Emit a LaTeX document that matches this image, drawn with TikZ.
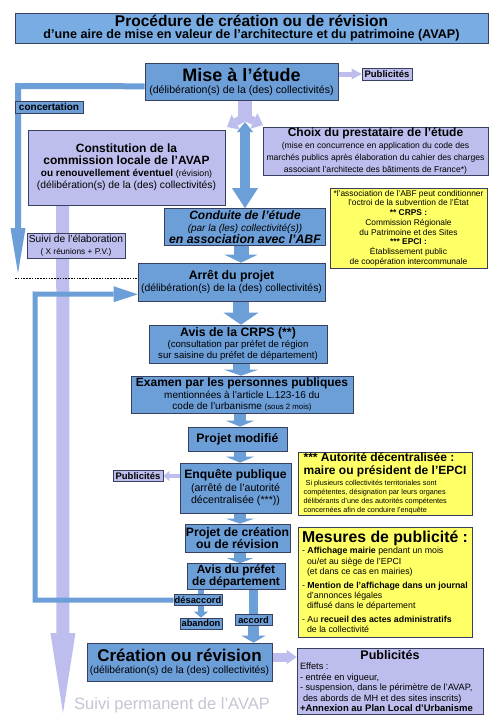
\documentclass[tikz,border=0pt]{standalone}
\usepackage{fontspec}
\setmainfont{Liberation Sans}
\usetikzlibrary{arrows.meta,calc}
\definecolor{boxblue}{RGB}{108,158,216}
\definecolor{titleblue}{RGB}{120,172,226}
\definecolor{lav}{RGB}{190,190,238}
\definecolor{yel}{RGB}{255,255,102}
\definecolor{edge}{RGB}{55,65,95}
\definecolor{permgray}{RGB}{200,196,212}
\newcommand\fsz[2]{\fontsize{#1}{#2}\selectfont}
\pgfdeclarelayer{bg}
\pgfsetlayers{bg,main}
\tikzset{
  box/.style={draw=edge, line width=0.6pt, inner sep=0.5pt, align=center, text=black},
  bluebox/.style={box, fill=boxblue},
  titlebox/.style={box, fill=titleblue},
  lavbox/.style={box, fill=lav},
  yelbox/.style={box, fill=yel},
  bluetag/.style={box, fill=boxblue, inner sep=0pt, font=\fsz{9.3}{9}\bfseries, minimum height=11pt},
  lavtag/.style={box, fill=lav, inner sep=0pt, font=\fsz{9.5}{9}\bfseries, minimum height=12pt},
  fatblue/.style n args={3}{draw=boxblue, line width=#1, -{Triangle[width=#2,length=#3,line width=0pt]}},
  fatlav/.style n args={3}{draw=lav, line width=#1, -{Triangle[width=#2,length=#3,line width=0pt]}},
  blueline/.style={draw=boxblue},
  dashline/.style={draw=black, line width=0.6pt, dash pattern=on 1.6pt off 1.2pt},
}
\begin{document}
\begin{tikzpicture}[x=1pt,y=-1pt]
\useasboundingbox (0,0) rectangle (500,725);

% ---------- nodes ----------
\node[titlebox, minimum width=473pt, minimum height=30pt, font=\bfseries] (title) at (251.5,28)
 {\fsz{15.5}{15}Procédure de création ou de révision\\ \fsz{12.6}{13}d'une aire de mise en valeur de l'architecture et du patrimoine (AVAP)};

\node[bluebox, minimum width=193pt, minimum height=37pt] (mise) at (241.5,81.5)
 {\fsz{18}{18}\bfseries Mise à l'étude\\ \fsz{10.6}{12}(délibération(s) de la (des) collectivités)};

\node[lavtag, minimum width=50pt] (pubT) at (387,74) {Publicités};
\node[bluetag, minimum width=68pt, minimum height=12pt] (concert) at (49,107) {\fsz{10}{10}concertation};

\node[lavbox, minimum width=197pt, minimum height=75pt] (constit) at (126.5,167.5)
 {\fsz{12}{15}\bfseries Constitution de la\\ \fsz{12}{15}\bfseries commission locale de l'AVAP\\ \fsz{10}{13.5}\bfseries ou renouvellement éventuel {\mdseries\fsz{8.8}{13.5}(révision)}\\ \fsz{10.3}{12}(délibération(s) de la (des) collectivités)};

\node[lavbox, minimum width=225pt, minimum height=48pt] (choix) at (375.5,151)
 {\fsz{12}{13.5}\bfseries Choix du prestataire de l'étude\\[0.5pt] \fsz{8.6}{9.6}(mise en concurrence en application du code des\\ \fsz{8.6}{9.6}marchés publics après élaboration du cahier des charges\\ \fsz{8.6}{9.6}associant l'architecte des bâtiments de France*)};

\node[bluebox, minimum width=161pt, minimum height=37pt, inner sep=0pt] (conduite) at (245,227)
 {\fsz{12}{12}\bfseries\itshape Conduite de l'étude\\ \fsz{10}{12.5}\itshape (par la (les) collectivité(s))\\ \fsz{12.3}{12.5}\bfseries\itshape en association avec l'ABF};

\node[yelbox, minimum width=157pt, minimum height=80pt, inner sep=0pt, font=\fsz{8.4}{9.7}] (note) at (408.5,228)
 {*l'association de l'ABF peut conditionner\\ l'octroi de la subvention de l'État\\ \textbf{** CRPS :}\\ Commission Régionale\\ du Patrimoine et des Sites\\ \textbf{*** EPCI :}\\ Établissement public\\ de coopération intercommunale};

\node[lavbox, minimum width=98pt, minimum height=25pt, inner sep=0pt] (suivi) at (76,245.5)
 {\fsz{10.2}{11}Suivi de l'élaboration\\ \fsz{8.3}{10}( X réunions + P.V.)};

\node[bluebox, minimum width=187pt, minimum height=38pt] (arret) at (231.5,282)
 {\fsz{12.3}{14}\bfseries Arrêt du projet\\ \fsz{10.4}{12.5}(délibération(s) de la (des) collectivités)};

\node[bluebox, minimum width=178pt, minimum height=38pt, font=\fsz{9.6}{11}] (crps) at (238,344)
 {\fsz{12.3}{13}\bfseries Avis de la CRPS (**)\\ (consultation par préfet de région\\ sur saisine du préfet de département)};

\node[bluebox, minimum width=222pt, minimum height=37pt, font=\fsz{10}{11.2}] (examen) at (242,394.5)
 {\fsz{12}{12.5}\bfseries Examen par les personnes publiques\\ mentionnées à l'article L.123-16 du\\ code de l'urbanisme {\fsz{7.8}{11}(sous 2 mois)}};

\node[bluebox, minimum width=99pt, minimum height=24pt] (pm) at (237.5,439)
 {\fsz{12.3}{13}\bfseries Projet modifié};

\node[bluebox, minimum width=111pt, minimum height=50pt, font=\fsz{10.6}{12.5}] (enq) at (235.5,488)
 {\fsz{12.2}{14}\bfseries Enquête publique\\ (arrêté de l'autorité\\ décentralisée (***))};

\node[lavtag, minimum width=50pt, minimum height=11pt] (pubL) at (138,476) {Publicités};

\node[yelbox, minimum width=174pt, minimum height=63pt, align=left, inner sep=0pt, font=\fsz{7.3}{9}] (autor) at (385,483.5)
 {\fsz{12}{12.5}\bfseries *** Autorité décentralisée :\\[3.5pt] \fsz{12}{12.5}\bfseries maire ou président de l'EPCI\\[2.5pt] \hspace*{2pt}Si plusieurs collectivités territoriales sont\\ compétentes, désignation par leurs organes\\ délibérants d'une des autorités compétentes\\ concernées afin de conduire l'enquête};

\node[bluebox, minimum width=105pt, minimum height=28pt, inner sep=0pt, font=\fsz{12.2}{12.5}\bfseries] (pdc) at (237.5,538)
 {Projet de création\\ ou de révision};

\node[yelbox, minimum width=174pt, minimum height=110pt, align=left, font=\fsz{8.8}{10.3}] (mesures) at (385,582)
 {\fsz{15.8}{16}\bfseries Mesures de publicité :\\[1pt]
  - \textbf{Affichage mairie} pendant un mois\\
  \hspace*{5pt}ou/et au siège de l'EPCI\\
  \hspace*{5pt}(et dans ce cas en mairies)\\[3.5pt]
  - \textbf{Mention de l'affichage dans un journal}\\
  \hspace*{5pt}d'annonces légales\\
  \hspace*{5pt}diffusé dans le département\\[3.5pt]
  - Au \textbf{recueil des actes administratifs}\\
  \hspace*{5pt}de la collectivité};

\node[bluebox, minimum width=98pt, minimum height=26pt, inner sep=0pt, font=\fsz{11.8}{12}\bfseries] (avis) at (236,576.5)
 {Avis du préfet\\ de département};

\node[bluetag, minimum width=48pt, minimum height=10.5pt] (desacc) at (198,600) {désaccord};
\node[bluetag, minimum width=42pt] (aband) at (201,623.5) {abandon};
\node[bluetag, minimum width=37pt] (accord) at (253.5,620) {accord};

\node[bluebox, minimum width=185pt, minimum height=38pt] (creation) at (179.5,662)
 {\fsz{17}{18}\bfseries Création ou révision\\ \fsz{10.3}{12}(délibération(s) de la (des) collectivités)};

\node[lavbox, text width=180pt, minimum height=66pt, inner xsep=3pt, inner ysep=0.5pt, align=none] (pubB) at (390,681)
 {\centering\fsz{12.5}{13}\bfseries Publicités\par
  \raggedright\fsz{9.2}{10.4}\mdseries Effets :\\
  - entrée en vigueur,\\
  - suspension, dans le périmètre de l'AVAP,\\
  \hspace*{3pt}des abords de MH et des sites inscrits)\\
  \fsz{9.5}{10.6}\bfseries +Annexion au Plan Local d'Urbanisme\par};

\node[text=permgray, font=\fsz{16.5}{17}] (perm) at (172,705) {Suivi permanent de l'AVAP};

% ---------- free ends ----------
\coordinate (suiviEnd) at (63,713);
\coordinate (concCorner) at (18,86);
\coordinate (concEnd) at (18,273);
\coordinate (dashStart) at (15,278);
\coordinate (loopB) at (35,600);
\coordinate (loopT) at (35,294);
\coordinate (split) at (245,117);
\coordinate (splitL) at (227,127);
\coordinate (splitR) at (263,125);
\coordinate (dblTop) at (245,122);
\coordinate (colA) at (241,0);
\coordinate (colB) at (240,0);

% ---------- connectors ----------
\begin{pgfonlayer}{bg}
\fill[white] (0,0) rectangle (500,725);
% permanent follow-up column
\draw[fatlav={13pt}{25pt}{80pt}] ($(constit.south west)+(35,0)$) -- (suiviEnd);
% concertation
\draw[fatblue={6pt}{15pt}{45pt}, line join=miter] ($(mise.south west)+(0,-14)$) -- (concCorner) -- (concEnd);
% dashed line
\draw[dashline] (dashStart) -- ($(arret.west)+(0,-4)$);
% return loop from disagreement
\draw[fatblue={5pt}{16pt}{24pt}, line join=miter] (desacc.west) -- (loopB) -- (loopT) -- ($(arret.south west)+(0,-7)$);
% Mise -> Publicites
\draw[fatlav={5pt}{11pt}{10pt}] (mise.east |- pubT) -- (pubT.west);
% split to constitution / choix
\draw[draw=lav, line width=14pt] ($(mise.south)+(3.5,0)$) -- (split);
\draw[fatlav={8pt}{17pt}{10pt}] (split) -- (splitL);
\draw[fatlav={8pt}{17pt}{10pt}] (split) -- (splitR);
% double arrow
\draw[draw=boxblue, line width=10pt, {Triangle[width=16pt,length=10pt,line width=0pt]}-{Triangle[width=26pt,length=20pt,line width=0pt]}] (dblTop) -- (conduite.north);
% main flow
\draw[fatblue={15pt}{33pt}{8pt}] (conduite.south -| colA) -- (arret.north -| colA);
\draw[fatblue={16pt}{35pt}{12pt}] (arret.south -| colA) -- (crps.north -| colA);
\draw[fatblue={17pt}{34pt}{6pt}] (crps.south -| colA) -- (examen.north -| colA);
\draw[fatblue={12pt}{28pt}{6pt}] (examen.south -| colB) -- (pm.north -| colB);
\draw[fatblue={12pt}{28pt}{6pt}] (pm.south -| colB) -- (enq.north -| colB);
\draw[fatblue={12pt}{28pt}{5pt}] (enq.south -| colB) -- (pdc.north -| colB);
\draw[fatblue={12pt}{26pt}{5pt}] (pdc.south -| colB) -- (avis.north -| colB);
% avis branches
\draw[blueline, line width=6pt] (avis.south -| aband.north) -- (desacc.north -| aband.north);
\draw[fatblue={6pt}{14pt}{6pt}] (desacc.south -| aband.north) -- (aband.north);
\draw[blueline, line width=9pt] (avis.south -| accord.north) -- (accord.north);
\draw[fatblue={11pt}{24pt}{7pt}] (accord.south) -- (creation.north -| accord.south);
% enquete -> publicites
\draw[fatlav={4pt}{10pt}{6pt}] (enq.west |- pubL) -- (pubL.east);
% creation -> publicites
\draw[fatlav={9pt}{14pt}{10pt}] ($(creation.east)+(0,-5)$) coordinate (cA) -- (cA -| pubB.west);
\end{pgfonlayer}
\end{tikzpicture}
\end{document}
